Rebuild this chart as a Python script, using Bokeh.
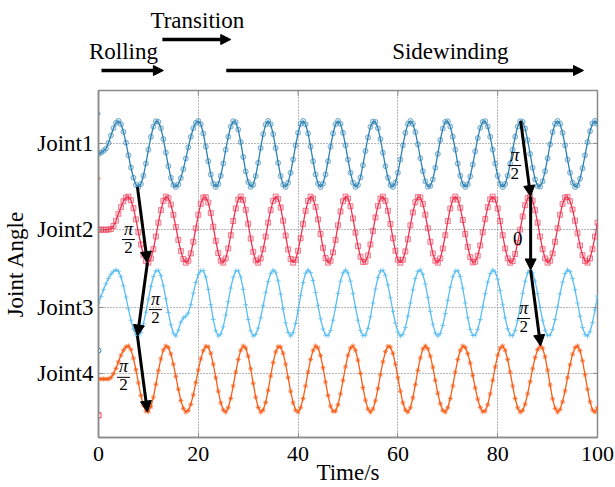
from bokeh.plotting import figure
from bokeh.models import Range1d, Arrow, NormalHead, FixedTicker, ColumnDataSource
from bokeh.layouts import column
from bokeh.embed import file_html
from bokeh.resources import INLINE
from bokeh.core.properties import value
import math

# ---------------- data ----------------
time_s = [i * 0.5 for i in range(201)]

joint1 = [
    0, .04, .09, .16, .33, .56, .78, .94, 1.00, .90,
    .67, .34, -.04, -.41, -.72, -.93, -1.00, -.91, -.66, -.29,
    .13, .52, .83, .99, .97, .78, .45, .04, -.37, -.72,
    -.94, -1.00, -.92, -.73, -.46, -.14, .20, .52, .78, .94,
    1.00, .90, .62, .22, -.22, -.62, -.90, -1.00, -.91, -.66,
    -.29, .13, .52, .83, .99, .96, .74, .36, -.09, -.53,
    -.85, -1.00, -.93, -.67, -.27, .18, .60, .89, 1.00, .90,
    .60, .18, -.27, -.67, -.93, -1.00, -.87, -.57, -.17, .26,
    .64, .91, 1.00, .90, .62, .22, -.22, -.62, -.90, -1.00,
    -.90, -.62, -.22, .22, .62, .90, 1.00, .91, .64, .26,
    -.17, -.57, -.87, -1.00, -.94, -.71, -.34, .09, .50, .82,
    .98, .97, .78, .45, .04, -.37, -.72, -.94, -1.00, -.87,
    -.57, -.17, .26, .64, .91, 1.00, .91, .66, .29, -.13,
    -.52, -.83, -.99, -.97, -.77, -.42, 0, .42, .77, .97,
    .99, .83, .52, .13, -.29, -.66, -.91, -1.00, -.92, -.68,
    -.32, .08, .48, .79, .97, .99, .83, .52, .13, -.29,
    -.66, -.91, -1.00, -.91, -.66, -.29, .13, .52, .83, .99,
    .97, .77, .42, 0, -.42, -.77, -.97, -.99, -.83, -.52,
    -.13, .29, .66, .91, 1.00, .91, .64, .26, -.17, -.57,
    -.87, -1.00, -.95, -.75, -.43, -.04, .36, .69, .92, 1.00,
    .91,
]

joint2 = [
    0, 0, 0, 0, 0, .02, .11, .27, .48, .68,
    .86, .97, 1.00, .89, .65, .31, -.08, -.45, -.76, -.95,
    -1.00, -.87, -.59, -.21, .21, .59, .87, 1.00, .95, .76,
    .45, .08, -.31, -.65, -.89, -1.00, -.94, -.72, -.37, .04,
    .45, .78, .97, .98, .82, .50, .09, -.34, -.71, -.94,
    -1.00, -.87, -.57, -.17, .26, .64, .91, 1.00, .90, .60,
    .18, -.27, -.67, -.93, -1.00, -.87, -.59, -.21, .21, .59,
    .87, 1.00, .93, .67, .27, -.18, -.60, -.89, -1.00, -.91,
    -.64, -.26, .17, .57, .87, 1.00, .94, .69, .31, -.13,
    -.55, -.86, -1.00, -.94, -.69, -.31, .13, .55, .86, 1.00,
    .94, .71, .34, -.09, -.50, -.82, -.98, -.97, -.78, -.45,
    -.04, .37, .72, .94, 1.00, .87, .57, .17, -.26, -.64,
    -.91, -1.00, -.91, -.66, -.29, .13, .52, .83, .99, .97,
    .78, .45, .04, -.37, -.72, -.94, -1.00, -.87, -.57, -.17,
    .26, .64, .91, 1.00, .91, .66, .29, -.13, -.52, -.83,
    -.99, -.97, -.79, -.48, -.08, .32, .68, .92, 1.00, .91,
    .64, .26, -.17, -.57, -.87, -1.00, -.95, -.74, -.40, 0,
    .40, .74, .95, 1.00, .87, .59, .21, -.21, -.59, -.87,
    -1.00, -.94, -.72, -.37, .04, .45, .78, .97, .99, .86,
    .61, .27, -.11, -.48, -.77, -.95, -1.00, -.87, -.59, -.21,
    .21,
]

joint3 = [
    0, .20, .40, .58, .74, .87, .96, 1.00, .96, .79,
    .52, .18, -.18, -.52, -.79, -.96, -1.00, -.89, -.63, -.28,
    .12, .50, .80, .97, .99, .83, .52, .13, -.29, -.66,
    -.91, -1.00, -.82, -.58, -.45, -.40, -.30, -.05, .30, .62,
    .86, .98, .98, .79, .41, -.05, -.50, -.84, -1.00, -.94,
    -.72, -.37, .04, .45, .78, .97, .98, .79, .41, -.05,
    -.50, -.84, -1.00, -.95, -.76, -.45, -.08, .31, .65, .89,
    1.00, .93, .67, .27, -.18, -.60, -.89, -1.00, -.90, -.62,
    -.22, .22, .62, .90, 1.00, .92, .68, .32, -.08, -.48,
    -.79, -.97, -.99, -.83, -.52, -.13, .29, .66, .91, 1.00,
    .91, .66, .29, -.13, -.52, -.83, -.99, -.97, -.77, -.42,
    0, .42, .77, .97, .99, .84, .55, .16, -.25, -.61,
    -.88, -1.00, -.95, -.74, -.40, 0, .40, .74, .95, 1.00,
    .87, .57, .17, -.26, -.64, -.91, -1.00, -.92, -.68, -.32,
    .08, .48, .79, .97, .98, .80, .45, 0, -.45, -.80,
    -.98, -.97, -.80, -.50, -.12, .28, .63, .89, 1.00, .94,
    .72, .37, -.04, -.45, -.78, -.97, -.99, -.83, -.52, -.13,
    .29, .66, .91, 1.00, .91, .66, .29, -.13, -.52, -.83,
    -.99, -.97, -.80, -.50, -.12, .28, .63, .89, 1.00, .95,
    .74, .40, 0, -.40, -.74, -.95, -1.00, -.87, -.59, -.21,
    .21,
]

joint4 = [
    0, 0, 0, 0, 0, .04, .16, .32, .52, .72,
    .87, .97, 1.00, .89, .63, .28, -.12, -.50, -.80, -.97,
    -.99, -.84, -.55, -.16, .25, .61, .88, 1.00, .95, .76,
    .45, .08, -.31, -.65, -.89, -1.00, -.95, -.77, -.48, -.11,
    .27, .61, .86, .99, .97, .78, .45, .04, -.37, -.72,
    -.94, -1.00, -.87, -.59, -.21, .21, .59, .87, 1.00, .94,
    .69, .31, -.13, -.55, -.86, -1.00, -.94, -.71, -.34, .09,
    .50, .82, .98, .97, .78, .45, .04, -.37, -.72, -.94,
    -1.00, -.87, -.59, -.21, .21, .59, .87, 1.00, .94, .71,
    .34, -.09, -.50, -.82, -.98, -.97, -.78, -.45, -.04, .37,
    .72, .94, 1.00, .87, .57, .17, -.26, -.64, -.91, -1.00,
    -.91, -.66, -.29, .13, .52, .83, .99, .97, .78, .45,
    .04, -.37, -.72, -.94, -1.00, -.87, -.57, -.17, .26, .64,
    .91, 1.00, .92, .69, .36, -.04, -.43, -.75, -.95, -1.00,
    -.87, -.59, -.21, .21, .59, .87, 1.00, .95, .77, .48,
    .11, -.27, -.61, -.86, -.99, -.97, -.78, -.45, -.04, .37,
    .72, .94, 1.00, .87, .59, .21, -.21, -.59, -.87, -1.00,
    -.95, -.76, -.45, -.08, .31, .65, .89, 1.00, .93, .67,
    .27, -.18, -.60, -.89, -1.00, -.92, -.69, -.36, .04, .43,
    .75, .95, 1.00, .86, .55, .13, -.31, -.69, -.94, -1.00,
    -.87,
]

joint_names = ["Joint1", "Joint2", "Joint3", "Joint4"]
joint_series = [joint1, joint2, joint3, joint4]
joint_offset = [8.58, 6.29, 4.07, 1.77]      # baseline of each joint trace
joint_tick = [8.90, 6.29, 3.93, 1.94]        # y tick positions of the labels
joint_color = ["#2D82B4", "#EE3250", "#5ABEF0", "#F55F19"]
joint_marker = ["circle", "square", "cross", "asterisk"]

x_ticks = [0, 20, 40, 60, 80, 100]

# stray markers on the left edge (t = 0)
stray_t = [0, 0, 0, 0]
stray_y = [9.80, 7.84, 2.63, 0.67]
stray_color = ["#2D82B4", "#F55F19", "#2D82B4", "#EE3250"]
stray_marker = ["circle", "circle", "circle", "square"]
stray_size = [3, 3, 5, 5]

# gait phases shown above the plot
phase_names = ["Rolling", "Transition", "Sidewinding"]
phase_start = [0.6, 12.8, 25.6]
phase_end = [13.0, 26.5, 97.2]
phase_label_t = [5.0, 19.8, 70.5]
phase_row = [0, 1, 0]

# phase-shift arrows inside the plot: (t_from, joint_from, t_to, joint_to, extreme)
shift_t0 = [7.8, 9.8, 7.8, 84.6, 86.6, 86.6]
shift_j0 = [0, 1, 2, 0, 1, 2]
shift_t1 = [9.8, 7.8, 9.8, 86.6, 86.6, 88.6]
shift_j1 = [1, 2, 3, 1, 2, 3]
shift_ext = [-1, -1, -1, 1, 1, 1]

# phase difference labels
frac_t = [6.0, 11.4, 5.0, 83.4, 85.2]
frac_y = [5.99, 3.87, 1.82, 8.23, 3.60]
zero_t = [84.0]
zero_y = [6.02]

SERIF = "Liberation Serif"
GRAY = "#8a8a8a"

# layout constants (pixels)
W = 615
BORDER_L = 98
BORDER_R = 18
TOP_H = 80
X0, X1 = 0, 100
Y0, Y1 = 0, 10.5

# ---------------- main figure ----------------
p = figure(width=W, height=407, x_range=Range1d(X0, X1), y_range=Range1d(Y0, Y1),
           toolbar_location=None, output_backend="svg",
           min_border_left=BORDER_L, min_border_right=BORDER_R,
           min_border_top=10, min_border_bottom=50)
p.background_fill_color = "white"
p.border_fill_color = "white"
p.outline_line_color = GRAY
p.outline_line_width = 1.5

for vals, off, col, mk in zip(joint_series, joint_offset, joint_color, joint_marker):
    ys = [off + v for v in vals]
    p.line(time_s, ys, line_color=col, line_width=1.3)
    if mk in ("cross", "asterisk"):
        p.scatter(time_s, ys, marker=mk, size=5, line_color=col, line_alpha=0.75, line_width=1)
    else:
        p.scatter(time_s, ys, marker=mk, size=5, line_color=col, line_alpha=0.6,
                  fill_color=col, fill_alpha=0.18, line_width=1)

p.scatter(stray_t, stray_y, marker=stray_marker, size=stray_size, line_color=stray_color,
          fill_color="white", line_width=1)

# axes
xa = p.xaxis[0]
xa.ticker = FixedTicker(ticks=x_ticks)
xa.axis_label = "Time/s"
ya = p.yaxis[0]
ya.ticker = FixedTicker(ticks=joint_tick)
ya.major_label_overrides = {t: n for t, n in zip(joint_tick, joint_names)}
ya.axis_label = "Joint Angle"

for ax in (xa, ya):
    ax.axis_line_color = GRAY
    ax.axis_line_width = 1.5
    ax.major_tick_line_color = GRAY
    ax.major_tick_in = 5
    ax.major_tick_out = 0
    ax.minor_tick_line_color = None
    ax.major_label_text_font = SERIF
    ax.major_label_text_color = "black"
    ax.axis_label_text_font = SERIF
    ax.axis_label_text_font_style = "normal"
    ax.axis_label_text_font_size = "23px"
    ax.axis_label_text_color = "black"
xa.major_label_text_font_size = "22px"
xa.major_label_standoff = 9
xa.axis_label_standoff = -4
ya.major_label_text_font_size = "23px"
ya.major_label_standoff = 5
ya.axis_label_standoff = 6

# inward ticks on the top and right edges of the box
p.scatter([t for t in x_ticks[1:-1]], [Y1] * (len(x_ticks) - 2), marker="dash",
          angle=math.pi / 2, size=10, line_color=GRAY, line_width=1)
p.scatter([X1] * len(joint_tick), joint_tick, marker="dash", size=10,
          line_color=GRAY, line_width=1)

p.xgrid.ticker = FixedTicker(ticks=x_ticks)
p.ygrid.ticker = FixedTicker(ticks=joint_tick)
p.grid.grid_line_color = "#707070"
p.grid.grid_line_dash = "1 2"
p.grid.grid_line_width = 1

# phase-shift arrows
arr_src = ColumnDataSource(dict(
    x0=shift_t0,
    y0=[joint_offset[j] + e for j, e in zip(shift_j0, shift_ext)],
    x1=shift_t1,
    y1=[joint_offset[j] + e for j, e in zip(shift_j1, shift_ext)],
))
p.add_layout(Arrow(end=NormalHead(size=11, fill_color="black", line_color="black"),
                   x_start="x0", y_start="y0", x_end="x1", y_end="y1",
                   line_width=3, line_color="black", source=arr_src))

# pi/2 fraction labels
p.segment(x0=[t - 1.3 for t in frac_t], y0=frac_y, x1=[t + 1.3 for t in frac_t], y1=frac_y,
          line_color="black", line_width=1)
p.text(x=frac_t, y=frac_y, text=["π"] * len(frac_t), text_align="center", text_baseline="bottom",
       y_offset=-1, text_font=value(SERIF), text_font_style="italic", text_font_size="18px",
       text_color="black")
p.text(x=frac_t, y=frac_y, text=["2"] * len(frac_t), text_align="center", text_baseline="top",
       y_offset=2, text_font=value(SERIF), text_font_size="17px", text_color="black")
p.text(x=zero_t, y=zero_y, text=["0"], text_align="center", text_baseline="middle",
       text_font=value(SERIF), text_font_size="19px", text_color="black")

# ---------------- top strip with gait phases ----------------
frame_w = W - BORDER_L - BORDER_R
units_per_px = (X1 - X0) / frame_w
top = figure(width=W, height=TOP_H,
             x_range=Range1d(X0 - BORDER_L * units_per_px, X1 + BORDER_R * units_per_px),
             y_range=Range1d(0, TOP_H),
             x_axis_location=None, y_axis_location=None,
             toolbar_location=None, output_backend="svg",
             min_border_left=0, min_border_right=0, min_border_top=0, min_border_bottom=0)
if "frame_align" in top.properties():
    top.frame_align = False
    p.frame_align = False
top.outline_line_color = None
top.grid.visible = False
top.background_fill_color = "white"
top.border_fill_color = "white"

row_arrow_y = [10, 41]
row_text_y = [29, 60]
ph_src = ColumnDataSource(dict(
    x0=phase_start, x1=phase_end,
    y=[row_arrow_y[r] for r in phase_row],
))
top.add_layout(Arrow(end=NormalHead(size=10, fill_color="black", line_color="black"),
                     x_start="x0", y_start="y", x_end="x1", y_end="y",
                     line_width=3.5, line_color="black", source=ph_src))
top.text(x=phase_label_t, y=[row_text_y[r] for r in phase_row], text=phase_names,
         text_align="center", text_baseline="middle", text_font=value(SERIF),
         text_font_size="23px", text_color="black")

layout = column(top, p)
open("out.html", "w").write(file_html(layout, INLINE))
